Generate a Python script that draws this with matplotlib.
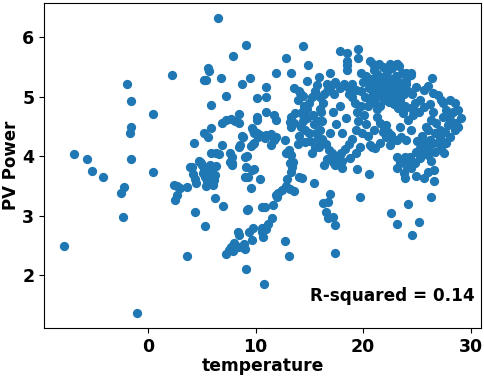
import matplotlib
matplotlib.use('Agg')
import matplotlib.pyplot as plt
from matplotlib.ticker import MultipleLocator

# temperature / PV power, grouped by area
left_t = [-7.8, -6.9, -5.7, -5.2, -4.2, -2.5, -2.2, -2.3, -1.9, -1.6, -1.6, -1.7, -1.6, -1.0, 0.5, 0.5, 2.2]
left_p = [2.50, 4.04, 3.96, 3.76, 3.66, 3.39, 3.49, 2.98, 5.21, 4.93, 4.49, 4.39, 3.96, 1.36, 4.71, 3.73, 5.37]

cool_t = [2.4, 2.7, 3.0, 3.6, 2.7, 2.5, 3.6, 4.35, 5.3, 6.2, 7.0, 3.9,
          4.1, 4.2, 4.4, 4.5, 4.8, 5.0, 5.2, 5.3, 5.5, 5.6, 5.7, 5.8, 5.9, 6.0, 6.1, 6.2, 5.4, 6.3, 5.1, 5.8, 4.7, 4.9,
          4.3, 5.2, 5.6, 5.9, 5.9, 6.9, 5.9, 6.3, 6.6, 7.3,
          6.5, 9.1, 7.9, 5.6, 5.7, 5.2, 5.4, 6.8, 8.7, 9.5, 10.1]
cool_p = [3.52, 3.50, 3.47, 3.49, 3.35, 3.27, 2.32, 3.07, 2.83, 3.30, 3.16, 3.82,
          3.82, 3.70, 3.62, 3.55, 3.90, 3.86, 3.78, 3.65, 3.58, 3.55, 3.62, 3.70, 3.78, 3.52, 3.60, 3.68, 3.50, 3.83, 3.72, 3.86, 3.92, 3.89,
          4.22, 4.39, 4.32, 4.48, 4.86, 4.19, 4.06, 4.06, 4.04, 5.01,
          6.33, 5.87, 5.68, 5.48, 5.43, 5.28, 5.28, 5.31, 5.21, 5.31, 4.98]

mild_t = [6.9, 7.3, 7.7, 8.1, 8.5, 8.5, 10.1, 10.1, 8.7, 9.8, 10.1, 10.4, 8.6, 9.6, 9.8, 7.6, 7.8, 9.2, 7.6, 7.8, 8.5, 8.8, 9.7, 9.9, 10.2, 9.9,
          9.0, 9.0, 7.8, 9.1, 9.9, 9.3, 10.4, 9.6, 9.3, 10.6, 9.2, 9.7,
          7.3, 7.5, 7.7, 8.0, 8.2, 8.4, 8.7, 8.9, 8.5, 9.4, 9.8, 9.7, 10.6, 10.6, 8.4, 9.1, 10.8, 9.0, 7.9]
mild_p = [4.56, 4.61, 4.63, 4.59, 4.56, 4.71, 4.66, 4.61, 4.34, 4.44, 4.40, 4.36, 4.19, 4.17, 4.21, 4.06, 3.99, 4.00, 3.91, 3.89, 4.16, 4.32, 4.48, 4.39, 4.32, 4.22,
          3.99, 3.66, 3.86, 3.82, 3.79, 3.66, 3.62, 3.47, 3.12, 3.14, 3.10, 3.77,
          2.35, 2.42, 2.47, 2.55, 2.50, 2.48, 2.47, 2.52, 2.68, 2.73, 2.80, 2.60, 2.72, 2.80, 2.72, 2.10, 1.86, 2.45, 2.40]

rise_t = [10.7, 11.0, 11.2, 11.5, 10.9, 11.6, 11.9, 12.0, 12.1, 12.5, 12.8, 13.2, 13.6, 12.9, 13.4, 13.3, 14.0, 14.3, 15.4, 12.7, 13.1,
          16.4, 17.4, 18.0, 19.4, 20.5, 16.9, 16.3, 16.7, 16.5, 16.7, 17.2, 17.4, 17.4, 19.7,
          23.1, 23.9, 24.4, 24.9, 25.6, 26.0, 26.6, 26.6, 26.3, 24.2, 22.6, 23.1, 25.2, 24.5, 23.8]
rise_p = [2.65, 2.77, 2.87, 2.97, 3.14, 3.19, 3.35, 3.32, 3.39, 3.44, 3.50, 3.45, 3.42, 3.62, 3.82, 3.74, 3.66, 3.64, 3.55, 2.58, 2.33,
          3.86, 3.86, 3.81, 3.79, 3.71, 3.37, 3.22, 3.24, 3.07, 2.97, 2.98, 2.85, 2.37, 3.32,
          3.81, 3.64, 3.81, 3.67, 3.64, 3.74, 3.77, 3.59, 3.32, 3.20, 3.04, 2.87, 2.90, 2.68, 3.72]

mid_t = [11.0, 11.0, 11.0, 11.7, 11.9, 13.7, 13.2, 13.3, 11.0, 10.9, 11.9, 11.7, 11.4, 12.8, 13.1, 13.3, 13.5, 13.2, 14.6, 14.1, 14.4,
         11.9, 12.8, 13.3, 14.4, 12.7, 13.6, 13.3, 14.4, 14.9, 14.8, 11.4,
         15.9, 16.9, 17.8, 18.5, 18.5, 18.5, 18.5, 19.5, 19.5, 20.6, 19.8, 23.1, 24.4, 26.4,
         13.6, 14.0, 13.9, 14.5, 14.8, 15.0, 15.2, 15.5, 15.7, 15.3, 14.8, 14.4, 14.2, 14.6, 15.0, 15.4, 15.6, 15.1, 15.5, 15.8,
         14.0, 13.9, 15.2, 15.8, 16.0, 16.0, 15.9, 14.3]
mid_p = [5.16, 4.99, 4.74, 4.69, 4.61, 4.73, 4.58, 4.49, 4.36, 4.31, 4.32, 4.27, 4.19, 4.06, 4.11, 4.02, 3.91, 3.89, 4.24, 5.06, 5.01,
         5.41, 5.66, 5.40, 5.85, 4.27, 4.56, 4.66, 4.69, 5.53, 5.26, 4.38,
         5.33, 5.41, 5.78, 5.73, 5.61, 5.53, 5.45, 5.80, 5.66, 5.60, 5.40, 5.55, 5.40, 5.31,
         5.15, 5.10, 4.95, 4.85, 4.80, 4.90, 5.00, 5.10, 5.20, 4.70, 4.65, 4.60, 4.50, 4.45, 4.40, 4.55, 4.40, 4.25, 4.15, 4.30,
         4.35, 4.20, 4.05, 4.60, 4.80, 5.00, 4.15, 4.75]

ring_t = [16.6, 17.0, 17.4, 17.8, 18.2, 18.6, 19.0, 19.3, 16.4,
          16.3, 16.1, 16.2, 16.0, 16.2, 16.5, 16.8,
          17.1, 17.5, 17.9, 18.3, 18.7, 19.0, 16.6, 17.2, 18.0, 18.8, 19.7, 20.6, 19.3,
          19.3, 19.5, 19.4, 19.2, 19.0, 18.7, 19.8, 20.1, 20.3, 19.9, 20.4,
          17.5, 18.0, 17.2, 16.9, 16.6, 17.3, 17.8, 18.4]
ring_p = [5.22, 5.18, 5.25, 5.15, 5.22, 5.17, 5.22, 5.12, 5.05,
          4.90, 4.75, 4.60, 4.45, 4.30, 4.20, 4.10,
          4.05, 4.00, 4.05, 4.12, 4.20, 4.30, 3.95, 3.90, 3.93, 3.98, 4.16, 4.19, 4.05,
          4.45, 4.60, 4.75, 4.90, 5.00, 5.05, 4.85, 4.70, 4.55, 4.40, 4.35,
          4.55, 4.40, 4.75, 4.40, 5.10, 5.05, 4.85, 4.65]

blob_t = [19.8, 20.0, 20.2, 20.3, 20.5, 20.6, 20.8, 20.9, 21.0, 21.1, 21.2, 21.3, 21.4, 21.5, 21.6, 21.7, 21.8, 21.9,
          22.0, 22.0, 22.1, 22.2, 22.3, 22.4, 22.5, 22.6, 22.7, 22.8, 22.9, 23.0, 23.1, 23.2, 23.3, 23.4, 23.5, 23.6,
          23.8, 23.9, 24.0, 21.0, 21.6, 22.3, 20.7, 22.6, 21.9, 21.3, 22.8, 20.4, 24.2, 23.7, 21.5, 22.5, 20.9, 23.3, 23.1, 24.0]
blob_p = [5.10, 5.25, 5.00, 5.35, 5.15, 4.95, 5.30, 5.05, 5.45, 4.90, 5.20, 5.38, 5.02, 5.28, 4.85, 5.12, 5.50, 5.22,
          4.98, 5.35, 5.08, 5.42, 5.18, 4.92, 5.30, 5.05, 5.48, 5.20, 4.88, 5.35, 5.10, 5.00, 5.25, 4.95, 5.15, 5.40,
          5.05, 4.85, 5.22, 5.15, 5.05, 5.00, 5.22, 5.12, 4.95, 4.80, 5.02, 4.85, 5.10, 4.78, 5.55, 5.55, 5.55, 5.52, 5.56, 5.41]

warm_t = [24.9, 25.6, 26.0, 26.5, 26.9, 27.2, 27.4, 25.3, 25.6, 24.0, 24.4, 26.5, 24.5, 24.8, 26.2, 25.2, 24.6, 28.1,
          28.5, 28.8, 29.1, 28.6, 28.5, 28.1, 27.7, 27.2, 26.7, 26.0, 25.3, 24.4, 23.9, 23.4, 23.1,
          25.8, 26.3, 26.8, 27.1, 27.4, 27.7, 28.1, 26.7, 26.2, 25.7, 25.3, 24.9, 27.1, 27.6, 27.9, 28.1, 26.5, 26.0, 25.6, 26.9,
          28.3, 28.8, 27.5, 26.3, 24.8, 24.0, 25.0, 25.5, 26.0, 27.3,
          21.6, 21.9, 22.3, 22.6, 22.1, 22.8, 22.5, 21.6, 21.1, 23.5, 23.4, 24.4, 24.2, 23.7, 23.2, 22.8, 24.4, 24.6,
          21.3, 22.1, 21.8, 23.1, 24.0, 24.3, 20.8, 21.0]
warm_p = [5.16, 5.11, 5.18, 5.06, 5.03, 4.94, 4.89, 4.94, 4.83, 5.28, 5.36, 4.74, 5.05, 4.90, 4.88, 4.75, 4.80, 4.94,
          4.89, 4.78, 4.64, 4.56, 4.44, 4.32, 4.22, 4.14, 4.07, 4.02, 3.97, 3.94, 3.99, 3.91, 3.99,
          4.49, 4.61, 4.56, 4.44, 4.66, 4.78, 4.69, 4.39, 4.27, 4.22, 4.14, 4.07, 4.31, 4.41, 4.53, 4.61, 4.22, 4.14, 4.06, 4.22,
          4.75, 4.50, 4.05, 3.92, 3.88, 3.85, 4.25, 4.35, 4.45, 4.25,
          4.56, 4.47, 4.41, 4.36, 4.32, 4.27, 4.19, 4.22, 4.14, 4.32, 4.49, 4.44, 4.61, 4.73, 4.81, 4.89, 4.81, 4.69,
          4.66, 4.53, 4.41, 4.27, 4.27, 3.99, 4.16, 4.44]

r_squared = 0.14

temperature = left_t + cool_t + mild_t + rise_t + mid_t + ring_t + blob_t + warm_t
pv_power = left_p + cool_p + mild_p + rise_p + mid_p + ring_p + blob_p + warm_p

plt.rcParams['font.family'] = 'DejaVu Sans'
plt.rcParams['font.weight'] = 'bold'

fig = plt.figure(figsize=(4.84, 3.78), dpi=100)
ax = fig.add_axes([0.091, 0.132, 0.903, 0.860])
ax.scatter(temperature, pv_power, s=32, color='#1f77b4')

ax.xaxis.set_major_locator(MultipleLocator(10))
ax.yaxis.set_major_locator(MultipleLocator(1))
ax.set_xlabel('temperature', fontsize=12.3, fontweight='bold')
ax.set_ylabel('PV Power', fontsize=12, fontweight='bold')
ax.xaxis.set_label_coords(0.5, -0.09)
ax.yaxis.set_label_coords(-0.056, 0.5)
ax.tick_params(labelsize=12.5)
for lbl in ax.get_xticklabels() + ax.get_yticklabels():
    lbl.set_fontweight('bold')

ax.text(0.985, 0.10, f'R-squared = {r_squared:.2f}', transform=ax.transAxes,
        ha='right', va='center', fontsize=12.2, fontweight='bold')

fig.savefig('out.png', dpi=100)
